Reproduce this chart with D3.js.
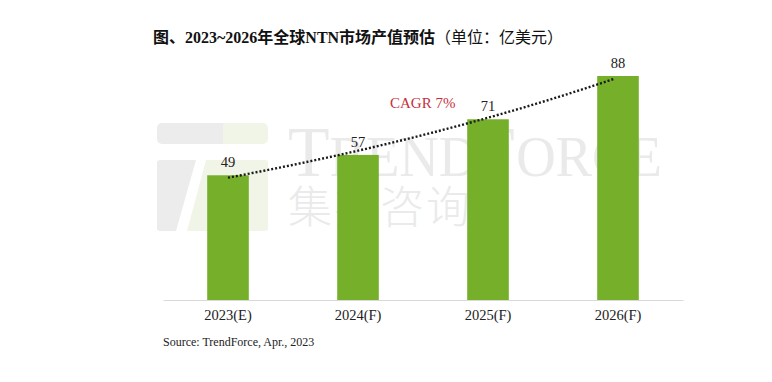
<!DOCTYPE html>
<html><head><meta charset="utf-8">
<script src="https://cdn.jsdelivr.net/npm/d3@7"></script>
<style>
html,body{margin:0;padding:0;background:#fff;}
svg{display:block;}
</style></head>
<body>
<script>
const categories = ["2023(E)", "2024(F)", "2025(F)", "2026(F)"];
const values = [49, 57, 71, 88];
const titleMain = "图、2023~2026年全球NTN市场产值预估";
const titleUnit = "（单位：亿美元）";
const cagrLabel = "CAGR 7%";
const sourceText = "Source: TrendForce, Apr., 2023";

const W = 772, H = 382;
const serif = "'Liberation Serif','Times New Roman','Noto Sans CJK SC',serif";
const svg = d3.select("body").append("svg").attr("width", W).attr("height", H);

const x = d3.scaleBand().domain(categories).range([163, 683]).paddingInner(0.68).paddingOuter(0.34);
const y = d3.scaleLinear().domain([0, 88]).range([300, 76]);

// watermark
const wm = svg.append("g");
wm.append("rect").attr("x",157).attr("y",123).attr("width",80).attr("height",21).attr("rx",5).attr("fill","#ececec");
wm.append("rect").attr("x",223).attr("y",123).attr("width",45).attr("height",21).attr("rx",5).attr("fill","#f1f5e7");
wm.append("rect").attr("x",223).attr("y",123).attr("width",8).attr("height",21).attr("fill","#f1f5e7");
wm.append("path").attr("d","M160,160 L196,160 L176,231 L160,231 Q157,231 157,228 L157,163 Q157,160 160,160Z").attr("fill","#ececec");
wm.append("path").attr("d","M206,160 L265,160 Q268,160 268,163 L268,228 Q268,231 265,231 L187,231Z").attr("fill","#f1f5e7");
const tf = wm.append("text").attr("x",288).attr("y",176).attr("font-family",serif).attr("fill","#eaeaea").attr("textLength",374).attr("lengthAdjust","spacingAndGlyphs");
tf.append("tspan").attr("font-size",72).text("T");
tf.append("tspan").attr("font-size",58).text("REND");
tf.append("tspan").attr("font-size",72).text("F");
tf.append("tspan").attr("font-size",58).text("ORCE");
wm.append("text").attr("x",288).attr("y",223).attr("font-family","'Noto Sans CJK SC',sans-serif").attr("font-size",44).attr("font-weight",300)
  .attr("fill","#eaeaea").attr("textLength",182).attr("lengthAdjust","spacing").text("集邦咨询");

// baseline axis
const xAxis = d3.axisBottom(x).tickSize(0).tickPadding(10);
const ax = svg.append("g").attr("transform","translate(0,300)").call(xAxis);
ax.select(".domain").attr("stroke","#d9d9d9").attr("stroke-width",1.2);
ax.selectAll("text").attr("font-family",serif).attr("font-size",14.5).attr("fill","#222");

// bars
svg.append("g").selectAll("rect").data(values).join("rect")
  .attr("x",(d,i)=>x(categories[i])).attr("width",x.bandwidth())
  .attr("y",d=>y(d)).attr("height",d=>y(0)-y(d)).attr("fill","#76b02a");

// value labels
svg.append("g").selectAll("text").data(values).join("text")
  .attr("x",(d,i)=>x(categories[i])+x.bandwidth()/2).attr("y",d=>y(d)-8)
  .attr("text-anchor","middle").attr("font-family",serif).attr("font-size",14.5).attr("fill","#222").text(d=>d);

// exponential trendline (least squares on log values)
const n = values.length, idx = d3.range(n);
const lx = d3.mean(idx), ly = d3.mean(values, v=>Math.log(v));
const slope = d3.sum(idx, i=>(i-lx)*(Math.log(values[i])-ly)) / d3.sum(idx, i=>(i-lx)*(i-lx));
const icpt = ly - slope*lx;
const tPts = d3.range(0, n-1+0.001, 0.05).map(t=>[t, Math.exp(icpt + slope*t)]);
const cx = i => x(categories[0]) + x.bandwidth()/2 + i*x.step() - (i>0? i*1.2:0);
svg.append("path").datum(tPts)
  .attr("d", d3.line().x(d=>cx(d[0])).y(d=>y(d[1])))
  .attr("fill","none").attr("stroke","#1a1a1a").attr("stroke-width",2.4).attr("stroke-dasharray","2,2");

svg.append("text").attr("x",390).attr("y",108).attr("font-family",serif).attr("font-size",15)
  .attr("fill","#c4303c").text(cagrLabel);

// title
const tt = svg.append("text").attr("x",153).attr("y",43).attr("font-size",16).attr("fill","#111");
tt.append("tspan").attr("font-family",serif).attr("font-weight","bold").text(titleMain);
tt.append("tspan").attr("font-family","'Noto Sans CJK SC',sans-serif").attr("font-weight","normal").text(titleUnit);

svg.append("text").attr("x",163).attr("y",346).attr("font-family",serif).attr("font-size",12).attr("fill","#222").text(sourceText);
</script>
</body></html>
